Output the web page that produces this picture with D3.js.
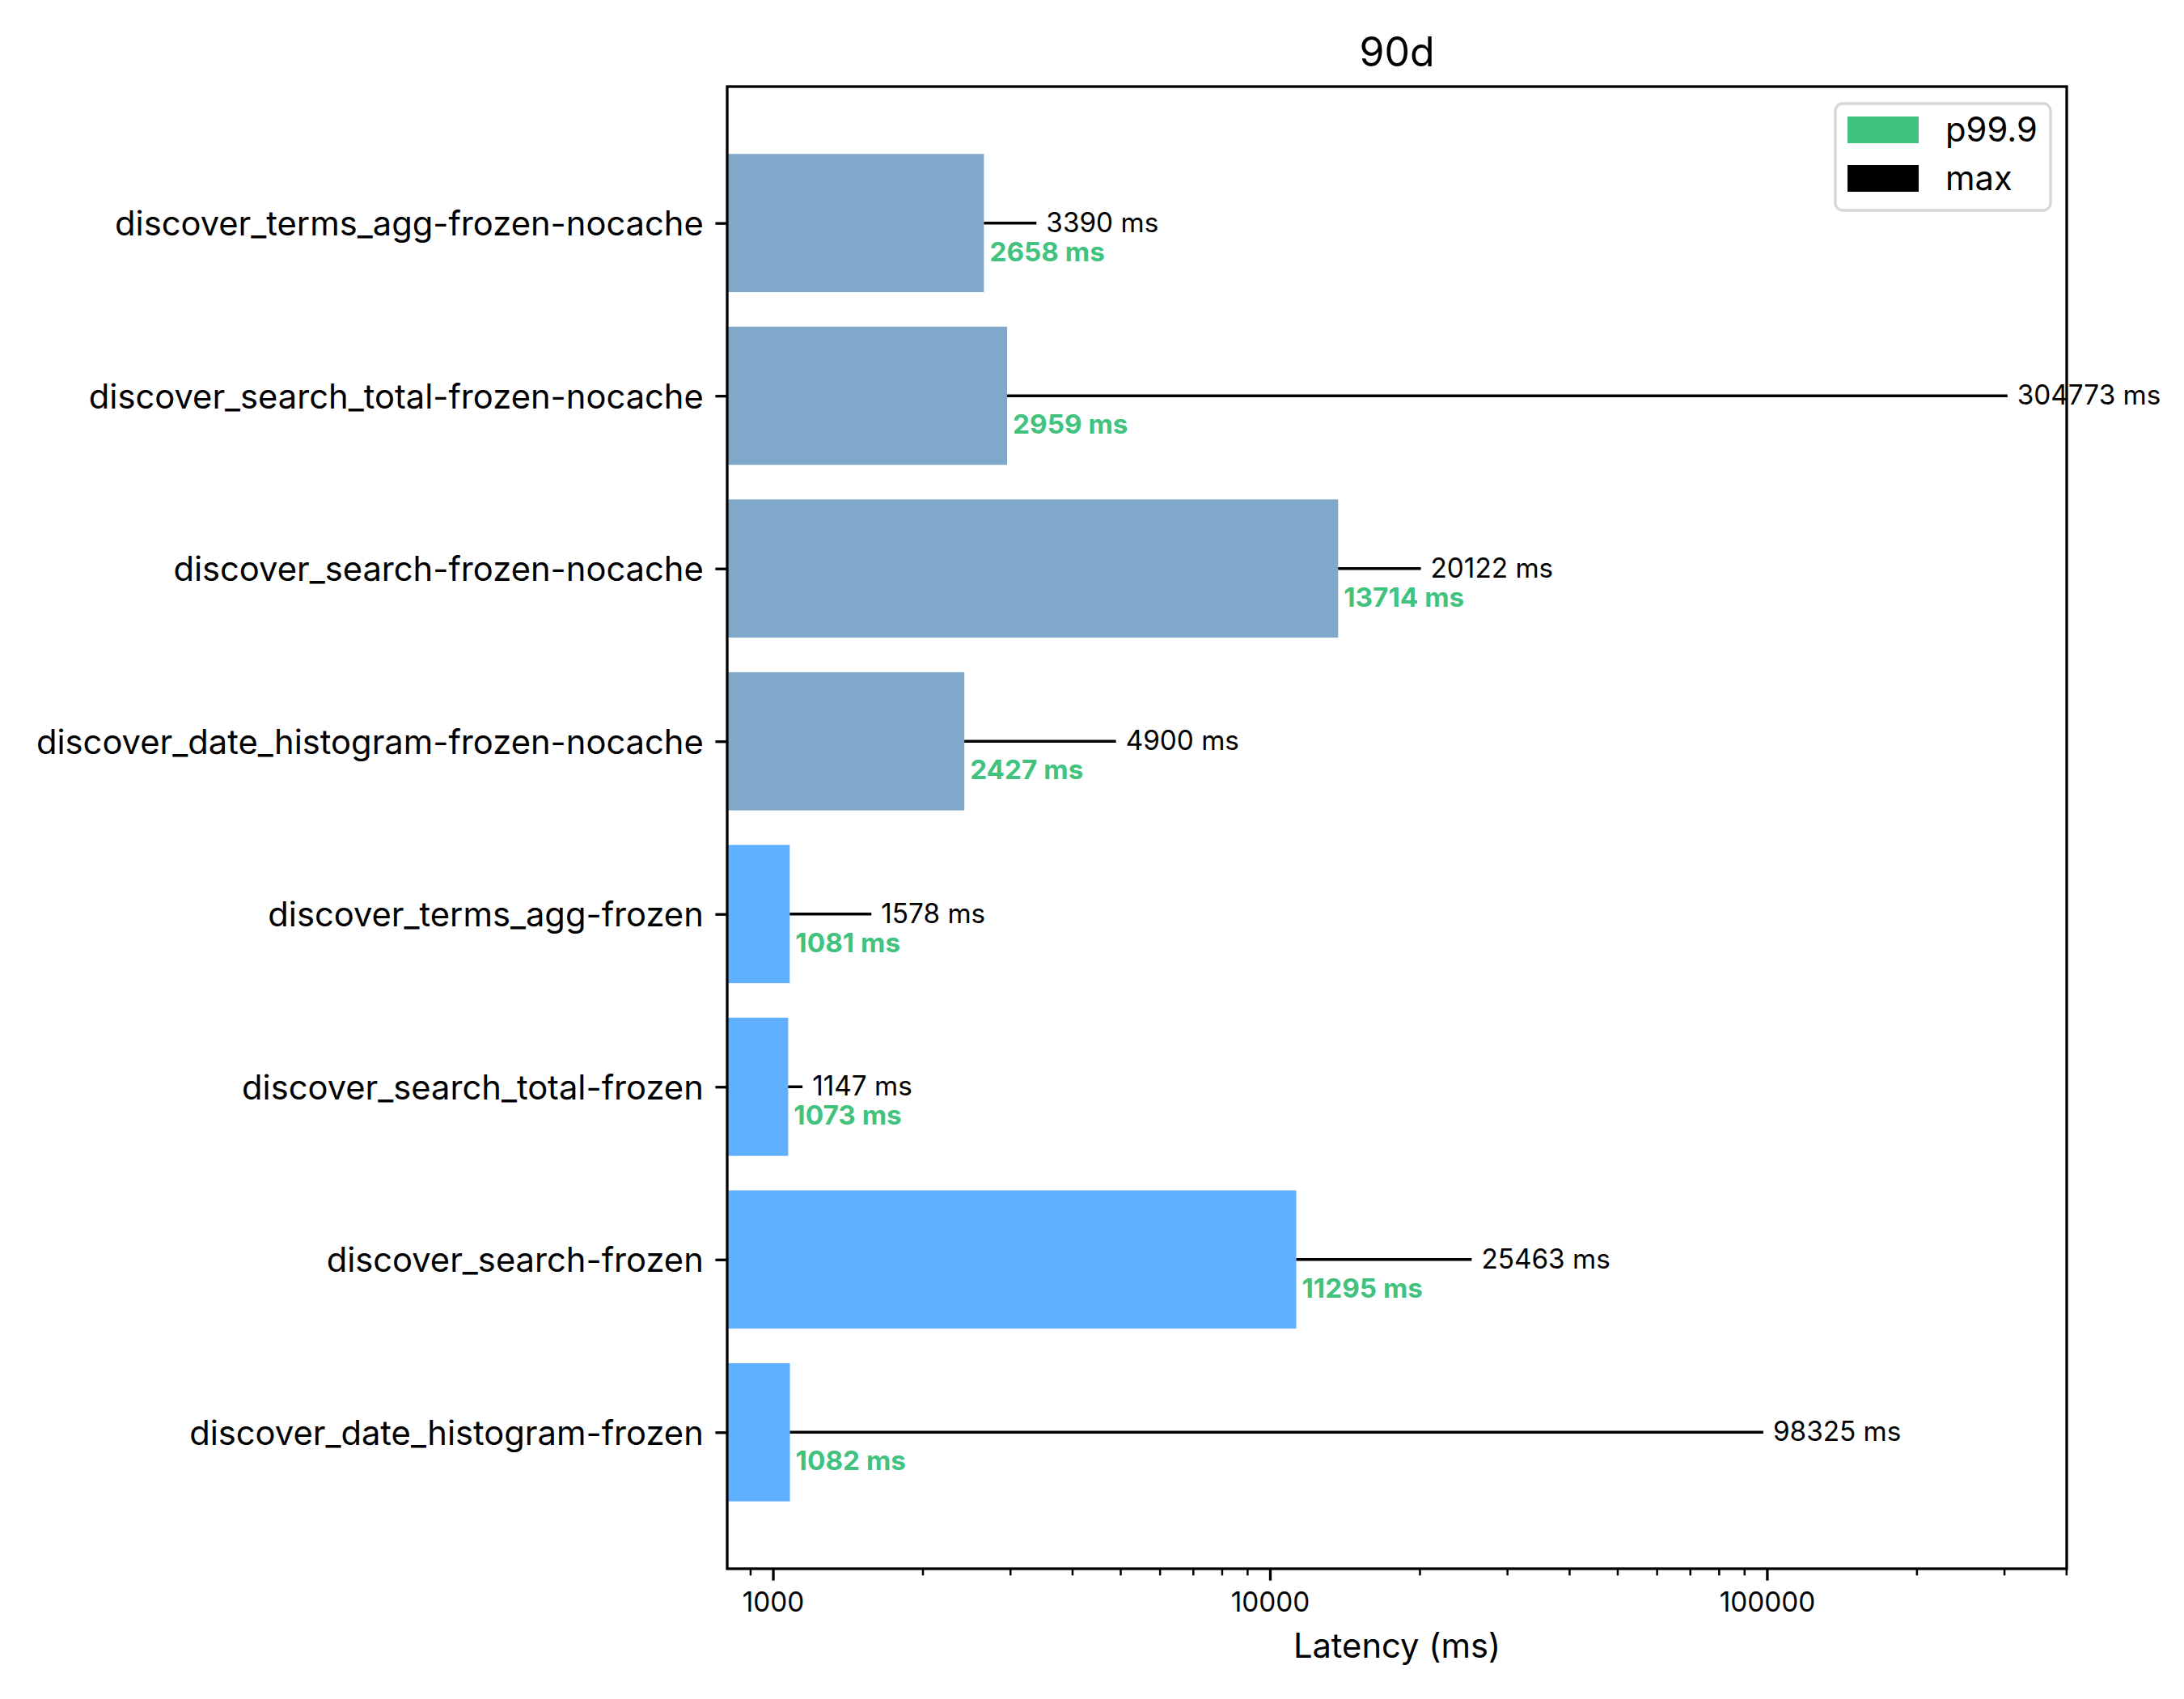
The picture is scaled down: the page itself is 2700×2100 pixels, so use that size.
<!DOCTYPE html>
<html><head><meta charset="utf-8">
<script src="https://cdn.jsdelivr.net/npm/d3@7"></script>
<style>body{margin:0;background:#fff}svg{display:block}</style>
</head><body><svg id="c" width="2700" height="2100"></svg>
<script>
// ---- data (bottom to top) ----
const categories = [
  "discover_date_histogram-frozen",
  "discover_search-frozen",
  "discover_search_total-frozen",
  "discover_terms_agg-frozen",
  "discover_date_histogram-frozen-nocache",
  "discover_search-frozen-nocache",
  "discover_search_total-frozen-nocache",
  "discover_terms_agg-frozen-nocache"
];
const p999Values = [1082, 11295, 1073, 1081, 2427, 13714, 2959, 2658];
const maxValues = [98325, 25463, 1147, 1578, 4900, 20122, 304773, 3390];
const groups = ["frozen", "frozen", "frozen", "frozen", "nocache", "nocache", "nocache", "nocache"];
const xMajorTicks = [1000, 10000, 100000];
const legendLabels = ["p99.9", "max"];
const titleText = "90d";
const xLabelText = "Latency (ms)";

// ---- layout ----
const FONT = "Inter, 'DejaVu Sans', sans-serif";
const L = 899, R = 2555, T = 107, B = 1939;
const colors = { frozen: "#5FB0FF", nocache: "#7FA8CA" };
const green = "#41C27F";

const svg = d3.select("#c");
const x = d3.scaleLog().domain([809, 401000]).range([L, R]);
const y = d3.scaleLinear().domain([-0.79, 7.79]).range([B, T]);
const barH = y(0) - y(0.8);

const idx = d3.range(categories.length);

// bars
svg.append("g").selectAll("rect").data(idx).join("rect")
  .attr("x", L)
  .attr("y", i => y(i) - barH / 2)
  .attr("width", i => x(p999Values[i]) - L)
  .attr("height", barH)
  .attr("fill", i => colors[groups[i]]);

// max lines
svg.append("g").selectAll("line").data(idx).join("line")
  .attr("x1", i => x(p999Values[i]))
  .attr("x2", i => x(maxValues[i]))
  .attr("y1", i => y(i)).attr("y2", i => y(i))
  .attr("stroke", "#000").attr("stroke-width", 3.5);

// x axis major
const xAxis = svg.append("g").attr("transform", `translate(0,${B})`)
  .call(d3.axisBottom(x).tickValues(xMajorTicks).tickFormat(d3.format("d"))
    .tickSize(14.6).tickPadding(14.6));
xAxis.select(".domain").remove();
xAxis.selectAll(".tick line").attr("stroke", "#000").attr("stroke-width", 3.3);
xAxis.selectAll(".tick text").attr("font-family", FONT).attr("font-size", 33.3).attr("fill", "#000");

// x axis minor
const minorTicks = x.ticks().filter(v => !xMajorTicks.includes(v) && v >= x.domain()[0] && v <= x.domain()[1]);
const xMinor = svg.append("g").attr("transform", `translate(0,${B})`)
  .call(d3.axisBottom(x).tickValues(minorTicks).tickFormat("").tickSize(8.3));
xMinor.select(".domain").remove();
xMinor.selectAll(".tick line").attr("stroke", "#000").attr("stroke-width", 2.5);

// y axis
const yAxis = svg.append("g").attr("transform", `translate(${L},0)`)
  .call(d3.axisLeft(y).tickValues(idx).tickFormat(i => categories[i])
    .tickSize(14.6).tickPadding(14.6));
yAxis.select(".domain").remove();
yAxis.selectAll(".tick line").attr("stroke", "#000").attr("stroke-width", 3.3);
yAxis.selectAll(".tick text").attr("font-family", FONT).attr("font-size", 41.7)
  .attr("fill", "#000").attr("dy", "0.36em");

// spines
svg.append("rect").attr("x", L).attr("y", T).attr("width", R - L).attr("height", B - T)
  .attr("fill", "none").attr("stroke", "#000").attr("stroke-width", 3.3);

// max labels
svg.append("g").selectAll("text").data(idx).join("text")
  .attr("x", i => x(maxValues[i]) + 12)
  .attr("y", i => y(i) + 11)
  .attr("font-family", FONT).attr("font-size", 33.3).attr("fill", "#000")
  .text(i => `${maxValues[i]} ms`);

// p99.9 labels
svg.append("g").selectAll("text").data(idx).join("text")
  .attr("x", i => x(p999Values[i]) + 7)
  .attr("y", i => y(i) + 47)
  .attr("font-family", FONT).attr("font-size", 33.3).attr("font-weight", 700).attr("fill", green)
  .text(i => `${p999Values[i]} ms`);

// title
svg.append("text").attr("x", (L + R) / 2).attr("y", 82).attr("text-anchor", "middle")
  .attr("font-family", FONT).attr("font-size", 50).attr("fill", "#000").text(titleText);

// x label
svg.append("text").attr("x", (L + R) / 2).attr("y", 2049).attr("text-anchor", "middle")
  .attr("font-family", FONT).attr("font-size", 41.7).attr("fill", "#000").text(xLabelText);

// legend
const lg = svg.append("g");
lg.append("rect").attr("x", 2269).attr("y", 128).attr("width", 266).attr("height", 132)
  .attr("rx", 9).attr("fill", "#fff").attr("fill-opacity", 0.8)
  .attr("stroke", "#d6d6d6").attr("stroke-width", 3.3);
const legendColors = [green, "#000"];
legendLabels.forEach((lab, k) => {
  lg.append("rect").attr("x", 2284).attr("y", 144 + k * 60).attr("width", 88).attr("height", 33)
    .attr("fill", legendColors[k]);
  lg.append("text").attr("x", 2405).attr("y", 175 + k * 60)
    .attr("font-family", FONT).attr("font-size", 41.7).attr("fill", "#000").text(lab);
});
</script>
</body></html>
